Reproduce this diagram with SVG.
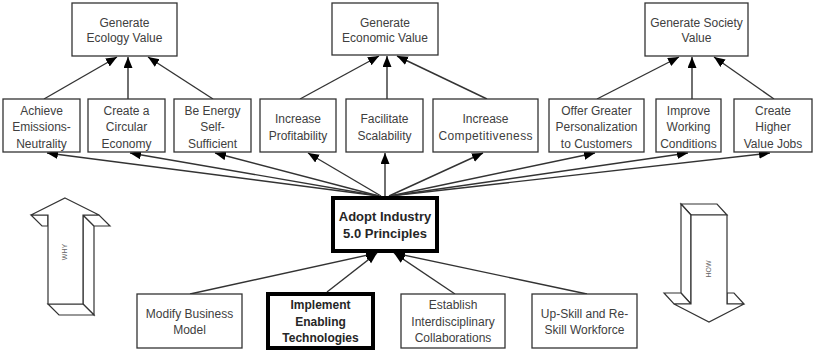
<svg xmlns="http://www.w3.org/2000/svg" width="816" height="352" viewBox="0 0 816 352">
<style>
.box{fill:#fff;stroke:#333;stroke-width:1.3}
.thick{fill:#fff;stroke:#000;stroke-width:4}
.t{font-family:"Liberation Sans",Arial,sans-serif;font-size:12px;fill:#404040;text-anchor:middle}
.b{font-family:"Liberation Sans",Arial,sans-serif;font-weight:bold;fill:#262626;text-anchor:middle}
.c{stroke:#333;stroke-width:1.4;fill:none;marker-end:url(#ah)}
.blk{fill:#fff;stroke:#333;stroke-width:1.2;stroke-linejoin:miter}
.s{font-family:"Liberation Sans",Arial,sans-serif;font-size:7px;fill:#666;text-anchor:middle}
</style>
<defs>
<marker id="ah" markerUnits="userSpaceOnUse" markerWidth="12" markerHeight="10" refX="11" refY="4.5" orient="auto">
<path d="M0,0 L11,4.5 L0,9 z" fill="#000"/>
</marker>
</defs>

<g id="connectors">
<line class="c" x1="44" y1="99" x2="117" y2="57"/>
<line class="c" x1="128" y1="99" x2="128" y2="57"/>
<line class="c" x1="213" y1="99" x2="148" y2="57"/>
<line class="c" x1="300" y1="99" x2="379" y2="56"/>
<line class="c" x1="387" y1="99" x2="387" y2="56"/>
<line class="c" x1="487" y1="99" x2="397" y2="56"/>
<line class="c" x1="597" y1="99" x2="679" y2="57"/>
<line class="c" x1="692" y1="99" x2="692" y2="57"/>
<line class="c" x1="774" y1="99" x2="714" y2="57"/>

<line class="c" x1="379" y1="196" x2="47" y2="153"/>
<line class="c" x1="379" y1="196" x2="130" y2="153"/>
<line class="c" x1="379" y1="196" x2="215" y2="153"/>
<line class="c" x1="381" y1="196" x2="308" y2="153"/>
<line class="c" x1="385" y1="196" x2="385" y2="153"/>
<line class="c" x1="389" y1="196" x2="483" y2="153"/>
<line class="c" x1="390" y1="196" x2="595" y2="153"/>
<line class="c" x1="390" y1="196" x2="688" y2="153"/>
<line class="c" x1="390" y1="196" x2="770" y2="153"/>

<line class="c" x1="190" y1="294" x2="377" y2="253"/>
<line class="c" x1="327" y1="292" x2="377" y2="253"/>
<line class="c" x1="455" y1="294" x2="394" y2="253"/>
<line class="c" x1="587" y1="294" x2="394" y2="253"/>
</g>

<g id="n-ecology"><rect class="box" x="72" y="3" width="105" height="53"/><text class="t" x="124.5" y="26.5">Generate</text><text class="t" x="124.5" y="42">Ecology Value</text></g>
<g id="n-economic"><rect class="box" x="332" y="3" width="106" height="52"/><text class="t" x="385" y="26.5">Generate</text><text class="t" x="385" y="42">Economic Value</text></g>
<g id="n-society"><rect class="box" x="645" y="3" width="103" height="53"/><text class="t" x="696.5" y="26.5">Generate Society</text><text class="t" x="696.5" y="42">Value</text></g>

<g id="n-emissions"><rect class="box" x="3" y="99" width="77" height="53"/><text class="t" x="41.5" y="114.5">Achieve</text><text class="t" x="41.5" y="131">Emissions-</text><text class="t" x="41.5" y="148">Neutrality</text></g>
<g id="n-circular"><rect class="box" x="88" y="99" width="77" height="53"/><text class="t" x="126.5" y="114.5">Create a</text><text class="t" x="126.5" y="131">Circular</text><text class="t" x="126.5" y="148">Economy</text></g>
<g id="n-energy"><rect class="box" x="174" y="99" width="77" height="53"/><text class="t" x="212.5" y="114.5">Be Energy</text><text class="t" x="212.5" y="131">Self-</text><text class="t" x="212.5" y="148">Sufficient</text></g>
<g id="n-profit"><rect class="box" x="260" y="99" width="76" height="53"/><text class="t" x="298" y="123">Increase</text><text class="t" x="298" y="139.5">Profitability</text></g>
<g id="n-scal"><rect class="box" x="346" y="99" width="77" height="53"/><text class="t" x="384.5" y="123">Facilitate</text><text class="t" x="384.5" y="139.5">Scalability</text></g>
<g id="n-comp"><rect class="box" x="433" y="99" width="105" height="53"/><text class="t" x="485.5" y="123">Increase</text><text class="t" x="485.5" y="139.5" textLength="94">Competitiveness</text></g>
<g id="n-person"><rect class="box" x="549" y="99" width="95" height="53"/><text class="t" x="596.5" y="114.5">Offer Greater</text><text class="t" x="596.5" y="131">Personalization</text><text class="t" x="596.5" y="148">to Customers</text></g>
<g id="n-working"><rect class="box" x="656" y="99" width="65" height="53"/><text class="t" x="688.5" y="114.5">Improve</text><text class="t" x="688.5" y="131">Working</text><text class="t" x="688.5" y="148">Conditions</text></g>
<g id="n-jobs"><rect class="box" x="734" y="99" width="78" height="53"/><text class="t" x="773" y="114.5">Create</text><text class="t" x="773" y="131">Higher</text><text class="t" x="773" y="148">Value Jobs</text></g>

<g id="n-adopt"><rect class="thick" x="333" y="198" width="104" height="53"/><text class="b" font-size="13" x="385" y="220.5">Adopt Industry</text><text class="b" font-size="13" x="385" y="237.5">5.0 Principles</text></g>

<g id="n-modify"><rect class="box" x="137" y="294" width="105" height="54"/><text class="t" x="189.5" y="317.5">Modify Business</text><text class="t" x="189.5" y="333.5">Model</text></g>
<g id="n-implement"><rect class="thick" x="268" y="294" width="105" height="54"/><text class="b" font-size="12" x="320.5" y="308.5">Implement</text><text class="b" font-size="12" x="320.5" y="325.5">Enabling</text><text class="b" font-size="12" x="320.5" y="341.5">Technologies</text></g>
<g id="n-establish"><rect class="box" x="401" y="294" width="104" height="54"/><text class="t" x="453" y="308.5">Establish</text><text class="t" x="453" y="325.5">Interdisciplinary</text><text class="t" x="453" y="341.5">Collaborations</text></g>
<g id="n-upskill"><rect class="box" x="532" y="294" width="105" height="54"/><text class="t" x="584.5" y="317.5">Up-Skill and Re-</text><text class="t" x="584.5" y="333.5">Skill Workforce</text></g>

<g id="why">
<path class="blk" d="M83,215 L94,226 L94,315 L83,304 Z"/>
<path class="blk" d="M48,304 L83,304 L94,315 L59,315 Z"/>
<path class="blk" d="M31,215 L42,226 L48,226 L48,215 Z"/>
<path class="blk" d="M83,215 L99,215 L110,226 L94,226 Z"/>
<path class="blk" d="M65,198 L99,215 L83,215 L83,304 L48,304 L48,215 L31,215 Z"/>
<text class="s" transform="translate(67,252) rotate(-90)">WHY</text>
</g>

<g id="how">
<path class="blk" d="M681,204 L717,204 L727,215 L691,215 Z"/>
<path class="blk" d="M681,204 L691,215 L691,304 L681,293 Z"/>
<path class="blk" d="M664,293 L681,293 L691,304 L674,304 Z"/>
<path class="blk" d="M727,293 L734,293 L744,304 L727,304 Z"/>
<path class="blk" d="M691,215 L727,215 L727,304 L744,304 L709,322 L674,304 L691,304 Z"/>
<text class="s" transform="translate(711,269) rotate(-90)">HOW</text>
</g>
</svg>
